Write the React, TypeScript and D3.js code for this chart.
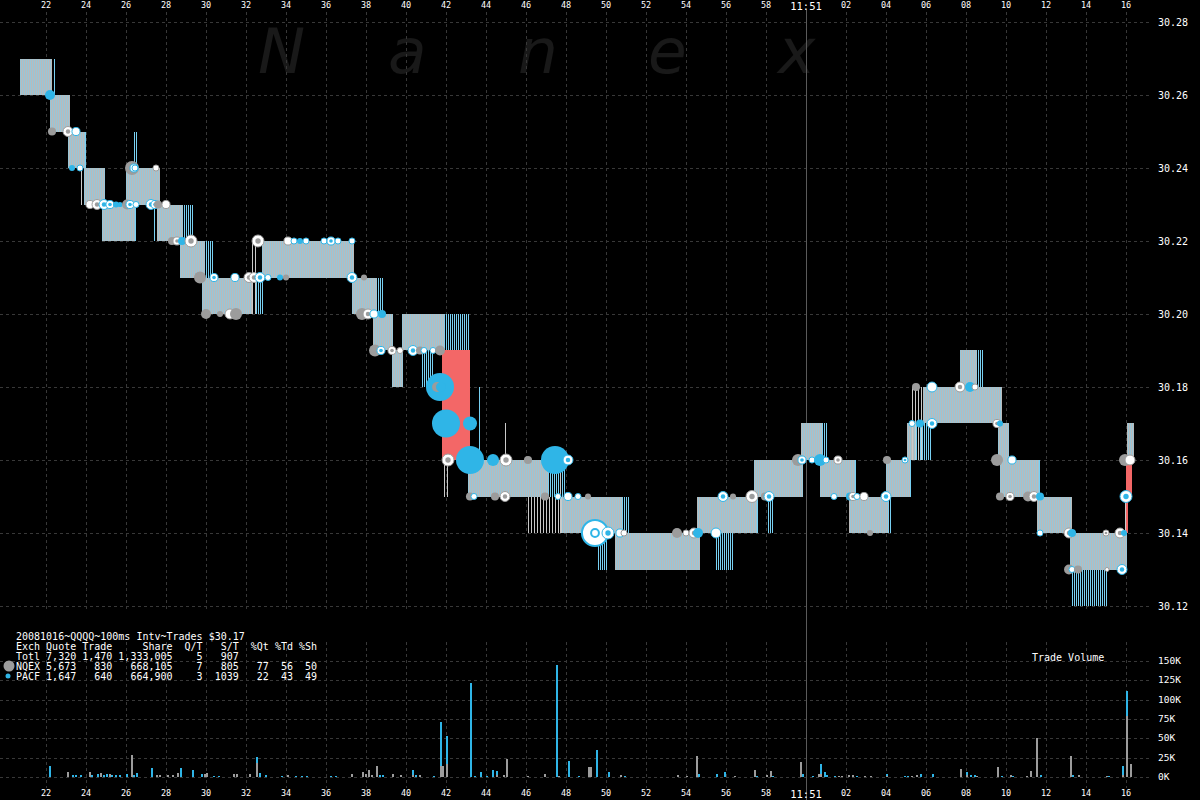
import React from "react";
import * as d3 from "d3";

// quote states: [startSec, endSec, bid, ask]  (seconds after 11:50:00)
const quotes: [number, number, number, number][] = [
  [20.7, 22.3, 30.26, 30.27],
  [22.2, 23.2, 30.25, 30.26],
  [23.1, 23.95, 30.24, 30.25],
  [23.9, 24.95, 30.23, 30.24],
  [24.8, 26.45, 30.22, 30.23],
  [26.0, 27.7, 30.23, 30.24],
  [27.55, 28.85, 30.22, 30.23],
  [28.7, 29.95, 30.21, 30.22],
  [29.8, 32.3, 30.2, 30.21],
  [32.8, 37.4, 30.21, 30.22],
  [37.3, 38.55, 30.2, 30.21],
  [38.35, 39.35, 30.19, 30.2],
  [39.3, 39.85, 30.18, 30.19],
  [39.8, 41.9, 30.19, 30.2],
  [43.1, 47.1, 30.15, 30.16],
  [47.8, 50.8, 30.14, 30.15],
  [50.45, 54.7, 30.13, 30.14],
  [54.55, 57.55, 30.14, 30.15],
  [57.4, 59.85, 30.15, 30.16],
  [59.75, 60.8, 30.16, 30.17],
  [60.7, 62.45, 30.15, 30.16],
  [62.15, 64.1, 30.14, 30.15],
  [64.0, 65.2, 30.15, 30.16],
  [65.05, 65.5, 30.16, 30.17],
  [65.85, 69.8, 30.17, 30.18],
  [67.7, 68.55, 30.18, 30.19],
  [69.6, 70.15, 30.16, 30.17],
  [69.7, 71.65, 30.15, 30.16],
  [71.55, 73.3, 30.14, 30.15],
  [73.2, 76.05, 30.13, 30.14],
  [76.05, 76.4, 30.16, 30.17],
];

// short-lived quote updates: [startSec, endSec, low, high, tone]
const spikes: [number, number, number, number, string][] = [
  [22.35, 22.5, 30.26, 30.27, "b"],
  [23.95, 24.05, 30.24, 30.25, "b"],
  [23.7, 23.85, 30.23, 30.24, "g"],
  [26.45, 26.55, 30.22, 30.23, "b"],
  [26.35, 26.6, 30.24, 30.25, "b"],
  [27.35, 27.5, 30.22, 30.23, "b"],
  [28.85, 29.35, 30.22, 30.23, "b"],
  [29.95, 30.35, 30.21, 30.22, "b"],
  [32.2, 32.5, 30.2, 30.22, "g"],
  [32.5, 32.85, 30.2, 30.21, "b"],
  [38.55, 38.9, 30.2, 30.21, "b"],
  [40.75, 41.35, 30.18, 30.19, "b"],
  [41.9, 43.2, 30.19, 30.2, "b"],
  [41.8, 42.2, 30.15, 30.16, "g"],
  [43.65, 43.7, 30.16, 30.18, "b"],
  [44.95, 45.0, 30.16, 30.17, "g"],
  [46.05, 47.8, 30.14, 30.15, "g"],
  [47.1, 47.95, 30.15, 30.16, "b"],
  [47.7, 47.8, 30.14, 30.16, "g"],
  [49.55, 50.1, 30.13, 30.14, "b"],
  [50.8, 51.2, 30.14, 30.15, "b"],
  [55.45, 56.35, 30.13, 30.14, "b"],
  [57.55, 57.65, 30.14, 30.15, "b"],
  [58.05, 58.35, 30.14, 30.15, "b"],
  [60.8, 61.1, 30.16, 30.17, "b"],
  [62.45, 62.55, 30.15, 30.16, "b"],
  [64.1, 64.3, 30.14, 30.15, "b"],
  [65.2, 65.3, 30.15, 30.16, "b"],
  [65.5, 66.3, 30.16, 30.17, "b"],
  [65.3, 65.85, 30.16, 30.18, "g"],
  [68.55, 68.9, 30.18, 30.19, "b"],
  [71.65, 71.75, 30.15, 30.16, "b"],
  [73.25, 75.05, 30.12, 30.13, "b"],
  [75.85, 76.0, 30.14, 30.15, "g"],
];

// crossed markets: [startSec, endSec, low, high]
const crossed: [number, number, number, number][] = [
  [41.8, 43.2, 30.16, 30.19],
  [76.0, 76.3, 30.15, 30.16],
  [76.0, 76.1, 30.14, 30.15],
];

// trades: [sec, price, exchange, shares, mark]  mark: 0 solid, 1 ringed, 2 white
const trades: [number, number, string, number, number][] = [
  [22.2, 30.26, "P", 3800, 0], [22.3, 30.25, "N", 2500, 0], [23.1, 30.25, "N", 3800, 1],
  [23.5, 30.25, "P", 2500, 2], [23.3, 30.24, "P", 1400, 0], [23.7, 30.24, "P", 1400, 2],
  [24.2, 30.23, "N", 2500, 2], [24.55, 30.23, "N", 3800, 1], [24.9, 30.23, "P", 3800, 1],
  [25.2, 30.23, "P", 2500, 1], [25.5, 30.23, "P", 1400, 0], [25.7, 30.23, "P", 1000, 0],
  [26.05, 30.23, "N", 3800, 0], [26.2, 30.23, "P", 2500, 1], [26.5, 30.23, "P", 1400, 2],
  [26.3, 30.24, "N", 7500, 0], [26.4, 30.24, "P", 2500, 1], [26.45, 30.24, "P", 1400, 2],
  [27.5, 30.24, "N", 1400, 2], [27.25, 30.23, "P", 3800, 1], [27.45, 30.23, "P", 2500, 1],
  [27.6, 30.23, "N", 2500, 0], [28.0, 30.23, "N", 2500, 2], [28.3, 30.22, "N", 2500, 0],
  [28.55, 30.22, "N", 2500, 1], [28.8, 30.22, "P", 2500, 0], [29.25, 30.22, "N", 5500, 1],
  [29.7, 30.21, "N", 5500, 0], [30.4, 30.21, "P", 2500, 1], [31.45, 30.21, "P", 2500, 2],
  [30.0, 30.2, "N", 3800, 0], [30.7, 30.2, "N", 1400, 0], [31.2, 30.2, "N", 3800, 2],
  [31.5, 30.2, "N", 5500, 0], [32.6, 30.22, "N", 5500, 1], [32.15, 30.21, "N", 3800, 1],
  [32.4, 30.21, "N", 3800, 1], [32.7, 30.21, "P", 3800, 1], [33.1, 30.21, "P", 1400, 2],
  [33.7, 30.21, "P", 1400, 0], [34.0, 30.21, "N", 1400, 0], [34.1, 30.22, "N", 2500, 2],
  [34.4, 30.22, "P", 1400, 2], [34.7, 30.22, "P", 1400, 0], [35.0, 30.22, "P", 1400, 2],
  [35.9, 30.22, "P", 1400, 2], [36.25, 30.22, "P", 2500, 1], [36.6, 30.22, "P", 1400, 2],
  [37.3, 30.22, "P", 1400, 2], [37.3, 30.21, "P", 3800, 1], [37.9, 30.21, "N", 1400, 0],
  [37.8, 30.2, "N", 5500, 0], [38.1, 30.2, "N", 3800, 1], [38.4, 30.2, "P", 2500, 2],
  [38.8, 30.2, "P", 2500, 0], [38.45, 30.19, "N", 5500, 0], [38.75, 30.19, "P", 2500, 1],
  [39.3, 30.19, "N", 2500, 1], [39.7, 30.19, "N", 1400, 2], [40.35, 30.19, "P", 3800, 1],
  [40.7, 30.19, "N", 2500, 0], [40.9, 30.19, "P", 1400, 2], [41.35, 30.19, "P", 1400, 2],
  [41.7, 30.19, "N", 3800, 0], [41.7, 30.18, "P", 57000, 0], [41.55, 30.18, "N", 3800, 0],
  [41.75, 30.18, "P", 3800, 0], [42.0, 30.17, "P", 36000, 0], [43.2, 30.17, "P", 7500, 0],
  [42.1, 30.16, "N", 5500, 1], [43.2, 30.16, "P", 122000, 0], [44.35, 30.16, "P", 5500, 0],
  [45.0, 30.16, "N", 5500, 1], [46.1, 30.16, "N", 2500, 0], [47.45, 30.16, "P", 145000, 0],
  [48.1, 30.16, "P", 3800, 1], [43.2, 30.15, "N", 2500, 0], [43.4, 30.15, "P", 1400, 2],
  [44.45, 30.15, "N", 2500, 0], [44.95, 30.15, "N", 3800, 1], [46.95, 30.15, "N", 2500, 0],
  [47.6, 30.15, "P", 1400, 2], [48.1, 30.15, "P", 2500, 2], [48.6, 30.15, "P", 1400, 2],
  [49.1, 30.15, "N", 1400, 0], [49.2, 30.14, "N", 5500, 0], [49.45, 30.14, "P", 26000, 2],
  [50.1, 30.14, "P", 5500, 1], [50.7, 30.14, "P", 2500, 2], [50.9, 30.14, "N", 1400, 2],
  [53.55, 30.14, "N", 3800, 0], [54.0, 30.14, "N", 1400, 2], [54.4, 30.14, "N", 3800, 1],
  [54.6, 30.14, "P", 3800, 0], [55.5, 30.14, "P", 3800, 2], [55.85, 30.15, "P", 3800, 1],
  [56.35, 30.15, "N", 1400, 0], [57.3, 30.15, "N", 5500, 1], [57.95, 30.15, "N", 2500, 0],
  [58.15, 30.15, "P", 3800, 1], [59.6, 30.16, "N", 5500, 0], [59.8, 30.16, "P", 2500, 1],
  [60.3, 30.16, "P", 1400, 2], [60.7, 30.16, "P", 5500, 0], [61.0, 30.16, "P", 1400, 2],
  [61.6, 30.16, "N", 2500, 1], [61.4, 30.15, "P", 1400, 2], [62.2, 30.15, "P", 2500, 0],
  [62.35, 30.15, "N", 2500, 1], [62.55, 30.15, "P", 1400, 2], [62.9, 30.15, "N", 2500, 2],
  [63.2, 30.14, "N", 1400, 0], [64.0, 30.15, "P", 3800, 1], [64.05, 30.16, "N", 2500, 0],
  [64.95, 30.16, "P", 1400, 1], [65.3, 30.17, "P", 1400, 2], [65.7, 30.17, "P", 2500, 0],
  [66.3, 30.17, "P", 3800, 1], [65.5, 30.18, "N", 2500, 0], [66.3, 30.18, "P", 3800, 2],
  [67.7, 30.18, "N", 3800, 1], [68.2, 30.18, "P", 3800, 0], [68.45, 30.18, "N", 1400, 2],
  [69.55, 30.17, "N", 2500, 1], [69.7, 30.17, "P", 1400, 0], [69.55, 30.16, "N", 5500, 0],
  [70.3, 30.16, "P", 2500, 2], [69.7, 30.15, "N", 2500, 0], [70.2, 30.15, "N", 2500, 1],
  [71.1, 30.15, "N", 3800, 0], [71.4, 30.15, "N", 3800, 1], [71.7, 30.15, "P", 2500, 0],
  [71.7, 30.14, "P", 1400, 2], [73.15, 30.14, "N", 3800, 1], [73.3, 30.14, "P", 2500, 0],
  [75.0, 30.14, "N", 1400, 1], [75.7, 30.14, "N", 3800, 1], [75.9, 30.14, "P", 1400, 0],
  [73.15, 30.13, "N", 3800, 0], [73.3, 30.13, "P", 1400, 2], [73.6, 30.13, "N", 2500, 0],
  [75.05, 30.13, "N", 600, 2], [75.8, 30.13, "P", 3800, 1], [76.0, 30.15, "P", 5500, 1],
  [75.95, 30.16, "N", 5500, 0], [76.2, 30.16, "N", 3800, 2],
];

// trade volume per 100ms: [sec, NQEX K shares, PACF K shares]
const volumeBars: [number, number, number][] = [
  [22.2, 0, 14], [23.1, 6, 0], [23.35, 0, 2.5], [23.5, 0, 2.5], [23.75, 0, 3], [24.2, 6, 0],
  [24.3, 0, 3], [24.6, 0, 4], [24.75, 5, 0], [24.9, 0, 3], [25.05, 0, 4], [25.2, 4, 0],
  [25.3, 0, 3], [25.5, 0, 2], [25.7, 0, 2], [26.05, 0, 4], [26.3, 28, 0], [26.4, 0, 3],
  [26.55, 0, 5], [27.3, 0, 11], [27.55, 3, 0], [27.7, 2, 0], [28.1, 2, 0], [28.35, 3, 0],
  [28.6, 5, 0], [28.75, 0, 11], [29.35, 0, 9], [29.8, 0, 4], [29.95, 4, 0], [30.05, 5, 0],
  [30.4, 0, 1.5], [30.65, 0, 1.5], [31.4, 4, 0], [31.55, 4, 0], [32.2, 4, 0], [32.55, 18, 8],
  [32.7, 0, 5], [33.0, 0, 2], [33.8, 0, 1.5], [34.1, 2, 0], [34.5, 0, 1.5], [34.8, 0, 1.5],
  [35.05, 0, 1.5], [36.25, 0, 1.5], [36.5, 0, 1.5], [37.3, 4, 0], [37.85, 6, 0], [38.0, 4, 0],
  [38.15, 9, 0], [38.3, 3, 0], [38.55, 14, 0], [38.7, 0, 2.5], [38.85, 0, 2.5], [39.35, 4, 0],
  [39.75, 2, 0], [40.35, 3, 6], [40.5, 0, 2], [40.7, 3, 0], [41.4, 0, 1.5], [41.75, 14, 57],
  [41.85, 14, 0], [42.05, 17, 36], [43.25, 0, 122], [43.45, 0, 1.5], [43.75, 0, 7],
  [44.05, 0, 1.5], [44.35, 0, 9], [44.55, 2, 6], [44.9, 2, 0], [45.05, 23, 0], [46.1, 1.5, 0],
  [46.95, 4, 0], [47.55, 0, 145], [47.65, 1.5, 0], [48.15, 0, 21], [48.65, 0, 1.5],
  [49.15, 13, 0], [49.25, 13, 0], [49.55, 0, 35], [50.15, 0, 7], [50.75, 3, 0], [50.95, 0, 1.5],
  [53.6, 3, 0], [54.05, 1.5, 0], [54.55, 27, 0], [54.65, 0, 4], [55.55, 0, 4], [55.95, 0, 7],
  [56.45, 1.5, 0], [57.45, 9, 0], [57.55, 0, 1.5], [58.05, 3, 0], [58.25, 8, 0], [58.35, 0, 1.5],
  [59.75, 19, 0], [59.85, 0, 4], [60.35, 0, 1.5], [60.65, 4, 0], [60.75, 4, 13], [60.95, 0, 7],
  [61.05, 0, 3], [61.45, 0, 1.5], [61.65, 1.5, 0], [61.8, 1.5, 0], [62.15, 3, 0], [62.35, 3, 0],
  [62.55, 0, 1.5], [62.95, 1.5, 0], [63.25, 1.5, 0], [64.05, 1.5, 2.5], [64.95, 0, 1.5],
  [65.1, 0, 1.5], [65.3, 1.5, 0], [65.55, 2, 0], [65.75, 0, 4], [66.35, 0, 4], [67.75, 10, 0],
  [68.05, 2, 4], [68.25, 0, 3], [68.45, 0, 3], [68.55, 1.5, 0], [69.6, 13, 0], [69.8, 0, 1.5],
  [70.25, 2, 0], [70.35, 0, 1.5], [71.05, 1.5, 0], [71.25, 8, 0], [71.55, 50, 0], [71.75, 0, 2],
  [73.25, 27, 0], [73.35, 0, 2], [73.65, 2, 0], [75.05, 1.5, 0], [75.15, 0, 1.5], [75.85, 3, 11],
  [76.05, 79, 32], [76.25, 17, 0],
];

const timeTicks = d3.range(22, 77, 2);
const priceTicks = [30.12, 30.14, 30.16, 30.18, 30.2, 30.22, 30.24, 30.26, 30.28];
const volumeTicks = [0, 25, 50, 75, 100, 125, 150];
const watermark = ["N", "a", "n", "e", "x"];
const legendLines = [
  "20081016~QQQQ~100ms Intv~Trades $30.17",
  "Exch Quote Trade     Share  Q/T   S/T  %Qt %Td %Sh",
  "Totl 7,320 1,470 1,333,005    5   907",
  "NQEX 5,673   830   668,105    7   805   77  56  50",
  "PACF 1,647   640   664,900    3  1039   22  43  49",
];

const BLUE = "#2fb5e7";
const GRAY = "#9c9c9c";
const GRID = "#383838";

const fmtTime = (t: number) => (t < 60 ? String(t) : t === 60 ? "11:51" : String(t - 60).padStart(2, "0"));

export default function App() {
  const x = d3.scaleLinear().domain([22, 76]).range([46, 1126]);
  const y = d3.scaleLinear().domain([30.12, 30.28]).range([606, 22]);
  const vy = d3.scaleLinear().domain([0, 150]).range([777, 661]);
  const r = d3.scaleSqrt().domain([0, 30000]).range([0, 14]).clamp(true);
  const color = (e: string) => (e === "P" ? BLUE : GRAY);
  const mono = "'DejaVu Sans Mono', monospace";

  return (
    <svg width={1200} height={800} style={{ position: "absolute", left: 0, top: 0, background: "#000" }}>
      <defs>
        <pattern id="qfill" patternUnits="userSpaceOnUse" width={2} height={10}>
          <rect x={0} y={0} width={1} height={10} fill="#98c6d8" shapeRendering="crispEdges" />
          <rect x={1} y={0} width={1} height={10} fill="#bababa" shapeRendering="crispEdges" />
        </pattern>
        <pattern id="spB" patternUnits="userSpaceOnUse" width={2} height={10}>
          <rect x={0} y={0} width={1} height={10} fill="#78d0f2" shapeRendering="crispEdges" />
        </pattern>
        <pattern id="spG" patternUnits="userSpaceOnUse" width={3} height={10}>
          <rect x={0} y={0} width={1} height={10} fill="#c9c9c9" shapeRendering="crispEdges" />
        </pattern>
      </defs>
      <rect x={0} y={0} width={1200} height={800} fill="#000" />

      {/* watermark */}
      {watermark.map((ch, i) => (
        <text key={"w" + i} x={258 + i * 130} y={73} fill="#191919" fontSize={63} fontStyle="italic"
          fontFamily="'DejaVu Sans', sans-serif">{ch}</text>
      ))}

      {/* grid */}
      <g stroke={GRID} strokeDasharray="3,3" shapeRendering="crispEdges">
        {priceTicks.map((p) => (
          <line key={"hp" + p} x1={0} x2={1150} y1={Math.round(y(p)) + 0.5} y2={Math.round(y(p)) + 0.5} />
        ))}
        {volumeTicks.map((v) => (
          <line key={"hv" + v} x1={0} x2={1150} y1={Math.round(vy(v)) + 0.5} y2={Math.round(vy(v)) + 0.5} />
        ))}
        {timeTicks.filter((t) => t !== 60).map((t) => (
          <g key={"vt" + t}>
            <line x1={x(t) + 0.5} x2={x(t) + 0.5} y1={12} y2={612} />
            <line x1={x(t) + 0.5} x2={x(t) + 0.5} y1={642} y2={788} />
          </g>
        ))}
      </g>
      <line x1={x(60) + 0.5} x2={x(60) + 0.5} y1={10} y2={800} stroke="#5a5a5a" />

      {/* axis labels */}
      {timeTicks.map((t) => (
        <g key={"tl" + t} fill="#fff" fontFamily={mono} fontSize={t === 60 ? 10.5 : 8.5} textAnchor="middle">
          <text x={x(t)} y={t === 60 ? 10 : 8}>{fmtTime(t)}</text>
          <text x={x(t)} y={t === 60 ? 798 : 796}>{fmtTime(t)}</text>
        </g>
      ))}
      {priceTicks.map((p) => (
        <text key={"pl" + p} x={1158} y={y(p) + 3.5} fill="#fff" fontFamily={mono} fontSize={10}>{p.toFixed(2)}</text>
      ))}
      {volumeTicks.map((v) => (
        <text key={"vl" + v} x={1158} y={vy(v) + 3} fill="#fff" fontFamily={mono} fontSize={9.5}>{v + "K"}</text>
      ))}
      <text x={1032} y={661} fill="#fff" fontFamily={mono} fontSize={10} style={{ whiteSpace: "pre" }}>Trade Volume</text>

      {/* quotes */}
      <g shapeRendering="crispEdges">
        {quotes.map((q, i) => (
          <rect key={"q" + i} x={Math.round(x(q[0]))} width={Math.round(x(q[1])) - Math.round(x(q[0]))}
            y={Math.round(y(q[3]))} height={Math.round(y(q[2])) - Math.round(y(q[3]))} fill="url(#qfill)" />
        ))}
        {spikes.map((s, i) => {
          const x0 = Math.round(x(s[0]));
          const w = Math.max(1, Math.round(x(s[1])) - x0);
          const solid = w <= 2;
          return (
            <rect key={"s" + i} x={x0} width={solid ? 1 : w} y={Math.round(y(s[3]))}
              height={Math.round(y(s[2])) - Math.round(y(s[3]))}
              fill={solid ? (s[4] === "b" ? "#78d0f2" : "#c9c9c9") : s[4] === "b" ? "url(#spB)" : "url(#spG)"} />
          );
        })}
        {crossed.map((c, i) => (
          <rect key={"c" + i} x={Math.round(x(c[0]))} width={Math.round(x(c[1])) - Math.round(x(c[0]))}
            y={Math.round(y(c[3]))} height={Math.round(y(c[2])) - Math.round(y(c[3]))} fill="#f36767" />
        ))}
      </g>

      {/* trades */}
      {trades.map((d, i) => {
        const cx = x(d[0]);
        const cy = y(d[1]);
        const rr = Math.max(2, r(d[3]));
        const c = color(d[2]);
        if (d[4] === 0) return <circle key={"t" + i} cx={cx} cy={cy} r={rr} fill={c} />;
        if (d[4] === 1)
          return (
            <g key={"t" + i}>
              <circle cx={cx} cy={cy} r={rr} fill="#fff" stroke={c} strokeWidth={1} />
              <circle cx={cx} cy={cy} r={rr * 0.45} fill={c} />
            </g>
          );
        return (
          <g key={"t" + i}>
            <circle cx={cx} cy={cy} r={rr} fill="#fff" stroke={c} strokeWidth={rr > 8 ? 2 : 1} />
            {rr > 8 && <circle cx={cx} cy={cy} r={rr * 0.3} fill="#fff" stroke={c} strokeWidth={2} />}
          </g>
        );
      })}

      {/* volume */}
      <g shapeRendering="crispEdges">
        {volumeBars.map((b, i) => {
          const bx = Math.round(x(b[0])) - 1;
          return (
            <g key={"v" + i}>
              {b[1] > 0 && <rect x={bx} width={2} y={vy(b[1])} height={vy(0) - vy(b[1])} fill={GRAY} />}
              {b[2] > 0 && <rect x={bx} width={2} y={vy(b[1] + b[2])} height={vy(b[1]) - vy(b[1] + b[2])} fill={BLUE} />}
            </g>
          );
        })}
      </g>

      {/* legend */}
      {legendLines.map((l, i) => (
        <text key={"l" + i} x={16} y={640 + i * 10} fill="#fff" fontFamily={mono} fontSize={10}
          style={{ whiteSpace: "pre" }}>{l}</text>
      ))}
      <circle cx={9} cy={666} r={5.5} fill={GRAY} />
      <circle cx={8} cy={676} r={2.5} fill={BLUE} />
    </svg>
  );
}
